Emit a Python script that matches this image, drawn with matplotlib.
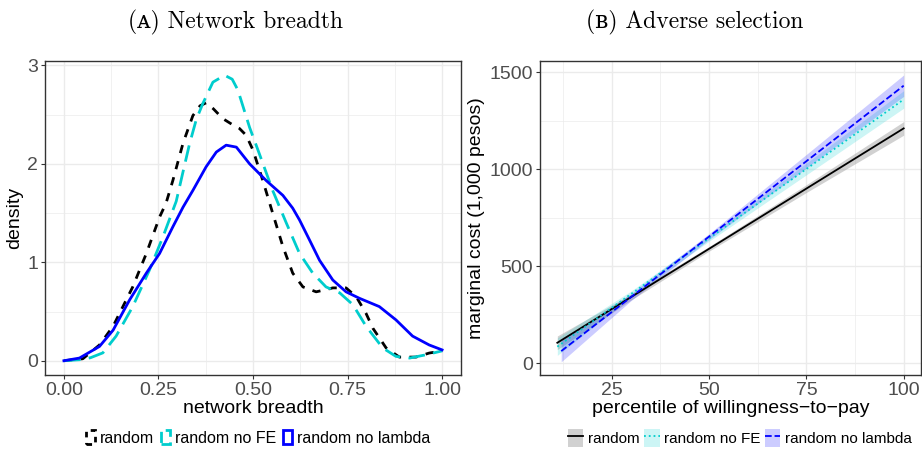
import numpy as np
import matplotlib
matplotlib.use("Agg")
import matplotlib.pyplot as plt
from matplotlib.lines import Line2D
from matplotlib.patches import Patch

plt.rcParams['font.family'] = ['Liberation Sans', 'DejaVu Sans']

# ---- panel A: density of network breadth
x_random = [0.0, 0.05, 0.094, 0.13, 0.182, 0.218, 0.253, 0.27, 0.288, 0.315, 0.341, 0.36,
            0.376, 0.395, 0.42, 0.445, 0.464, 0.482, 0.5, 0.526, 0.552, 0.579, 0.605,
            0.632, 0.667, 0.69, 0.711, 0.746, 0.773, 0.799, 0.817, 0.852, 0.887, 0.931,
            0.966, 1.0]
y_random = [0.0, 0.02, 0.16, 0.35, 0.75, 1.09, 1.46, 1.6, 1.83, 2.21, 2.49, 2.59,
            2.62, 2.56, 2.46, 2.4, 2.36, 2.29, 2.14, 1.83, 1.5, 1.16, 0.89,
            0.75, 0.7, 0.72, 0.74, 0.74, 0.65, 0.48, 0.33, 0.13, 0.037, 0.037,
            0.078, 0.1]

x_nofe = [0.0, 0.041, 0.07, 0.103, 0.138, 0.182, 0.226, 0.262, 0.297, 0.315, 0.332, 0.35,
          0.367, 0.394, 0.425, 0.445, 0.46, 0.491, 0.517, 0.552, 0.588, 0.623, 0.658,
          0.693, 0.729, 0.764, 0.799, 0.843, 0.878, 0.914, 0.958, 1.0]
y_nofe = [0.0, 0.01, 0.03, 0.08, 0.25, 0.55, 0.92, 1.26, 1.62, 1.92, 2.2, 2.45,
          2.61, 2.83, 2.9, 2.86, 2.75, 2.37, 2.1, 1.73, 1.4, 1.09, 0.89,
          0.75, 0.69, 0.57, 0.35, 0.13, 0.044, 0.027, 0.061, 0.1]

x_nolambda = [0.0, 0.041, 0.094, 0.13, 0.174, 0.218, 0.253, 0.288, 0.315, 0.341, 0.376,
              0.403, 0.429, 0.456, 0.491, 0.535, 0.579, 0.605, 0.623, 0.649, 0.676,
              0.711, 0.746, 0.781, 0.834, 0.878, 0.922, 0.966, 1.0]
y_nolambda = [0.0, 0.027, 0.145, 0.31, 0.62, 0.89, 1.09, 1.36, 1.56, 1.73, 1.97,
              2.12, 2.19, 2.17, 2.0, 1.83, 1.68, 1.55, 1.43, 1.23, 1.02,
              0.82, 0.7, 0.635, 0.55, 0.415, 0.25, 0.16, 0.11]

# ---- panel B: marginal cost vs percentile of WTP (linear fits + CI)
pct = [11, 30, 50, 75, 100]
mc_random = [106, 342, 590, 900, 1210]
ci_random = [35, 15, 12, 20, 35]
pct_nofe = [11, 30, 50, 75, 100]
mc_nofe = [86, 358, 644, 1001, 1359]
ci_nofe = [45, 15, 15, 30, 45]
pct_nolambda = [12, 30, 50, 75, 100]
mc_nolambda = [63, 342, 653, 1041, 1430]
ci_nolambda = [55, 18, 15, 35, 55]

labels = ["random", "random no FE", "random no lambda"]
CYAN = "#00CDCD"
BLUE = "#0000FF"
GRID = "#EBEBEB"
TICKC = "#4D4D4D"

fig = plt.figure(figsize=(9.22, 4.5), dpi=100)
axA = fig.add_axes([45 / 922, 75 / 450, 416 / 922, 314 / 450])
axB = fig.add_axes([540 / 922, 75 / 450, 381 / 922, 314 / 450])


def style(ax):
    ax.set_facecolor("white")
    ax.grid(True, which="major", color=GRID, lw=1.0)
    ax.grid(True, which="minor", color=GRID, lw=0.5)
    ax.set_axisbelow(True)
    for s in ax.spines.values():
        s.set_color("#333333")
        s.set_linewidth(1.0)
    ax.tick_params(which="major", length=3, color="#333333", labelsize=14,
                   labelcolor=TICKC, width=0.8, pad=2)
    ax.tick_params(which="minor", length=0)


# panel A
axA.plot(x_random, y_random, color="black", lw=2, dashes=(3, 3), label=labels[0])
axA.plot(x_nofe, y_nofe, color=CYAN, lw=2, dashes=(6, 3), label=labels[1])
axA.plot(x_nolambda, y_nolambda, color=BLUE, lw=2, label=labels[2])
axA.set_xlim(-0.05, 1.05)
axA.set_ylim(-0.145, 3.045)
axA.set_xticks([0, 0.25, 0.5, 0.75, 1.0])
axA.set_xticklabels(["0.00", "0.25", "0.50", "0.75", "1.00"])
axA.set_xticks([0.125, 0.375, 0.625, 0.875], minor=True)
axA.set_yticks([0, 1, 2, 3])
axA.set_yticks([0.5, 1.5, 2.5], minor=True)
style(axA)
axA.set_xlabel("network breadth", fontsize=14, labelpad=1)
axA.set_ylabel("density", fontsize=14, labelpad=3)

# panel B
fills = [(pct, mc_random, ci_random, "#999999", 0.45, "black", "-"),
         (pct_nofe, mc_nofe, ci_nofe, CYAN, 0.2, CYAN, ":"),
         (pct_nolambda, mc_nolambda, ci_nolambda, BLUE, 0.2, BLUE, "--")]
handlesB = []
for (px, py, ci, fc, al, lc, ls), lab in zip(fills, labels):
    px = np.array(px)
    py = np.array(py)
    ci = np.array(ci)
    axB.fill_between(px, py - ci, py + ci, color=fc, alpha=al, lw=0)
    axB.plot(px, py, color=lc, lw=1.3, ls=ls)
    handlesB.append((Patch(facecolor=fc, alpha=al, edgecolor="none"),
                     Line2D([], [], color=lc, lw=1.3, ls=ls)))
axB.set_xlim(6.55, 104.45)
axB.set_ylim(-60, 1557)
axB.set_xticks([25, 50, 75, 100])
axB.set_xticks([12.5, 37.5, 62.5, 87.5], minor=True)
axB.set_yticks([0, 500, 1000, 1500])
axB.set_yticks([250, 750, 1250], minor=True)
style(axB)
axB.set_xlabel("percentile of willingness\u2212to\u2212pay", fontsize=14, labelpad=1)
axB.set_ylabel("marginal cost (1,000 pesos)", fontsize=14, labelpad=3)

# titles
title_font = ["cmr10", "DejaVu Serif"]
fig.text(235 / 922, 1 - 22 / 450, "(\u1d00) Network breadth", family=title_font,
         fontsize=17, ha="center", va="center")
fig.text(695 / 922, 1 - 22 / 450, "(\u0299) Adverse selection", family=title_font,
         fontsize=17, ha="center", va="center")

# legends
hA = [Patch(facecolor="none", edgecolor="black", lw=2, ls=(0, (2, 2))),
      Patch(facecolor="none", edgecolor=CYAN, lw=2, ls=(0, (4, 2))),
      Patch(facecolor="none", edgecolor=BLUE, lw=2)]
fig.legend(hA, labels, loc="center", bbox_to_anchor=(258 / 922, 1 - 438 / 450),
           ncol=3, frameon=False, fontsize=11.5, handlelength=0.6, handleheight=1.0,
           handletextpad=0.3, columnspacing=0.4)
fig.legend(handlesB, labels, loc="center", bbox_to_anchor=(740 / 922, 1 - 438 / 450),
           ncol=3, frameon=False, fontsize=11, handlelength=1.0, handleheight=1.4,
           handletextpad=0.3, columnspacing=0.3)

fig.savefig("out.png", dpi=100)
